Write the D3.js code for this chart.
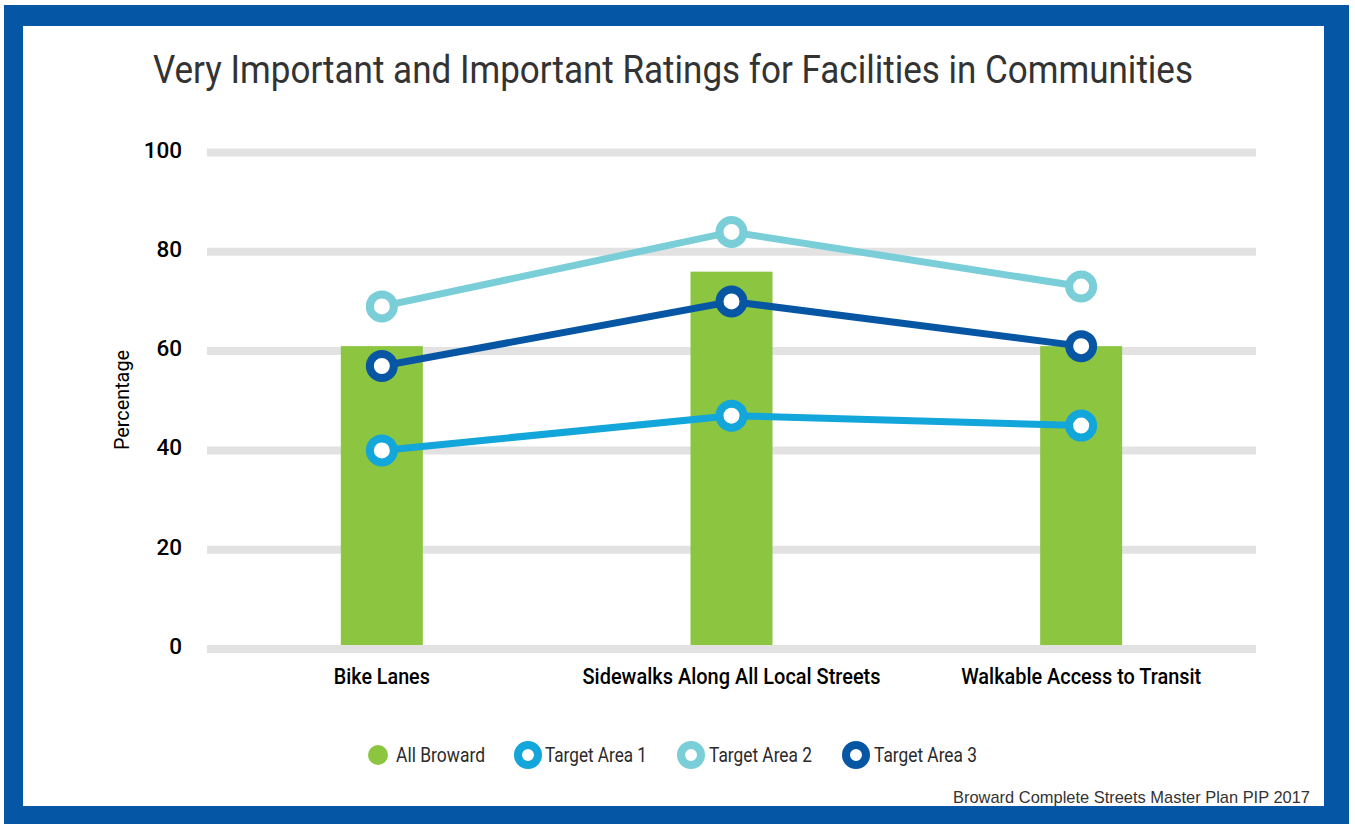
<!DOCTYPE html>
<html><head><meta charset="utf-8">
<script src="https://cdn.jsdelivr.net/npm/d3@7"></script>
<style>html,body{margin:0;padding:0;background:#fff;}svg{display:block;}</style>
</head><body>
<svg id="c" width="1355" height="824"></svg>
<script>
const categories = ["Bike Lanes", "Sidewalks Along All Local Streets", "Walkable Access to Transit"];
const allBroward = [61, 76, 61];
const targetArea1 = [40, 47, 45];
const targetArea2 = [69, 84, 73];
const targetArea3 = [57, 70, 61];
const yTicks = [0, 20, 40, 60, 80, 100];
const seriesNames = ["All Broward", "Target Area 1", "Target Area 2", "Target Area 3"];
const title = "Very Important and Important Ratings for Facilities in Communities";
const yLabel = "Percentage";
const source = "Broward Complete Streets Master Plan PIP 2017";

const colors = {green:"#8CC540", ta1:"#12A6DA", ta2:"#79CED8", ta3:"#0756A4", border:"#0557A5"};
const svg = d3.select("#c");

// frame
svg.append("rect").attr("x",4).attr("y",5).attr("width",1345).attr("height",819).attr("fill",colors.border);
svg.append("rect").attr("x",23).attr("y",26).attr("width",1301).attr("height",780).attr("fill","#fff");

// title
svg.append("text").attr("x",673).attr("y",83).attr("text-anchor","middle")
  .attr("font-family","Roboto").attr("font-size",38).attr("fill","#333")
  .attr("textLength",1040).attr("lengthAdjust","spacingAndGlyphs").text(title);

const x = d3.scaleBand().domain(categories).range([207,1256]);
const y = d3.scaleLinear().domain([0,100]).range([649,152.5]);

// gridlines
svg.append("g").selectAll("line").data(yTicks.filter(d=>d>0)).join("line")
  .attr("x1",207).attr("x2",1256).attr("y1",d=>y(d)).attr("y2",d=>y(d))
  .attr("stroke","#e2e2e2").attr("stroke-width",8);

// y axis labels
const yAxis = d3.axisLeft(y).tickValues(yTicks).tickSize(0).tickPadding(0);
const gy = svg.append("g").attr("transform","translate(182,0)").call(yAxis);
gy.select(".domain").remove();
gy.selectAll("text").attr("font-family","Roboto").attr("font-weight",500).attr("font-size",22.5)
  .attr("fill","#000").attr("dy","0.2em");

// bars
const bw = 82;
svg.append("g").selectAll("rect").data(allBroward).join("rect")
  .attr("x",(d,i)=>x(categories[i])+x.bandwidth()/2-bw/2)
  .attr("width",bw)
  .attr("y",d=>y(d))
  .attr("height",d=>y(0)-4-y(d))
  .attr("fill",colors.green);

// baseline gridline on top
svg.append("line").attr("x1",207).attr("x2",1256).attr("y1",y(0)).attr("y2",y(0))
  .attr("stroke","#e2e2e2").attr("stroke-width",8);

// lines
const series = [
  {vals:targetArea1, color:colors.ta1},
  {vals:targetArea2, color:colors.ta2},
  {vals:targetArea3, color:colors.ta3}
];
const line = d3.line().x((d,i)=>x(categories[i])+x.bandwidth()/2).y(d=>y(d));
series.forEach(s=>{
  svg.append("path").datum(s.vals).attr("d",line).attr("fill","none")
    .attr("stroke",s.color).attr("stroke-width",7);
});
series.forEach(s=>{
  svg.append("g").selectAll("circle").data(s.vals).join("circle")
    .attr("cx",(d,i)=>x(categories[i])+x.bandwidth()/2).attr("cy",d=>y(d))
    .attr("r",12).attr("fill","#fff").attr("stroke",s.color).attr("stroke-width",8);
});

// x axis labels
const xAxis = d3.axisBottom(x).tickSize(0).tickPadding(0);
const gx = svg.append("g").attr("transform","translate(0,684)").call(xAxis);
gx.select(".domain").remove();
const xLens = [96, 298, 240];
gx.selectAll("text").attr("dy",0).attr("font-family","Roboto").attr("font-weight",500)
  .attr("font-size",21.5).attr("fill","#000")
  .attr("textLength",(d,i)=>xLens[i]).attr("lengthAdjust","spacingAndGlyphs");

// y label
svg.append("text").attr("transform","translate(129,400) rotate(-90)").attr("text-anchor","middle")
  .attr("font-family","Roboto").attr("font-size",20).attr("fill","#000")
  .attr("textLength",100).attr("lengthAdjust","spacingAndGlyphs").text(yLabel);

// legend
const legX = [378, 528, 691, 856];
const legTextX = [396, 545, 709, 874];
const legLens = [89, 102, 103, 103];
const legColors = [colors.green, colors.ta1, colors.ta2, colors.ta3];
const lg = svg.append("g");
seriesNames.forEach((n,i)=>{
  if(i===0){
    lg.append("circle").attr("cx",legX[i]).attr("cy",755).attr("r",10).attr("fill",legColors[i]);
  } else {
    lg.append("circle").attr("cx",legX[i]).attr("cy",755).attr("r",10).attr("fill","#fff")
      .attr("stroke",legColors[i]).attr("stroke-width",8);
  }
  lg.append("text").attr("x",legTextX[i]).attr("y",762).attr("font-family","Roboto")
    .attr("font-size",19.5).attr("fill","#2a2a2a")
    .attr("textLength",legLens[i]).attr("lengthAdjust","spacingAndGlyphs").text(n);
});

// source
svg.append("text").attr("x",1310).attr("y",803).attr("text-anchor","end")
  .attr("font-family","Liberation Sans, Arial").attr("font-size",16.4).attr("fill","#333")
  .attr("textLength",357).attr("lengthAdjust","spacingAndGlyphs").text(source);
</script>
</body></html>
